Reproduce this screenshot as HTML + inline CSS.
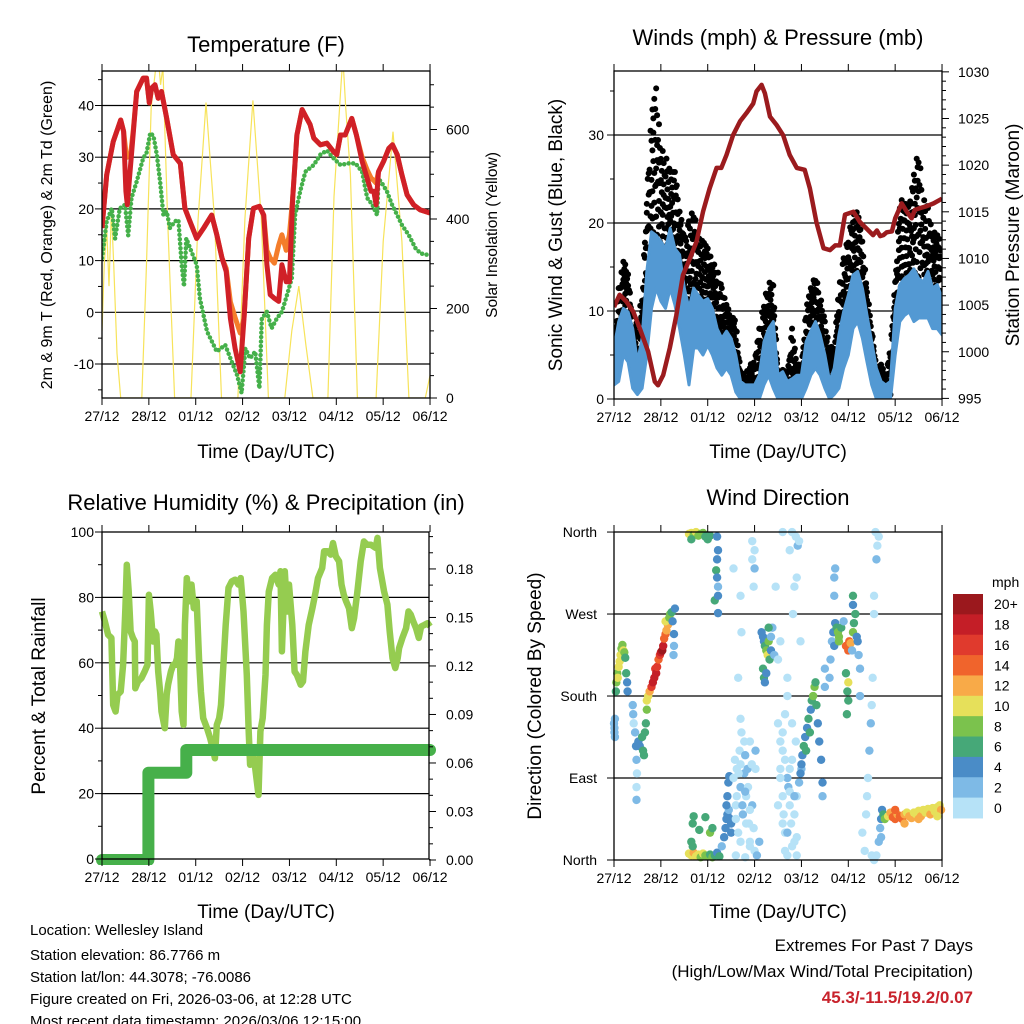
<!DOCTYPE html>
<html><head><meta charset="utf-8"><title>Weather station charts</title>
<style>
html,body{margin:0;padding:0;background:#fff;}
svg{display:block;font-family:"Liberation Sans",Arial,sans-serif;}
</style></head>
<body>
<svg id="root" width="1024" height="1024" viewBox="0 0 1024 1024" xmlns="http://www.w3.org/2000/svg">
<defs>
<clipPath id="c1"><rect x="102" y="71" width="328" height="327"/></clipPath>
<clipPath id="c2"><rect x="614" y="71" width="328" height="328"/></clipPath>
<clipPath id="c3"><rect x="96" y="526" width="340" height="339"/></clipPath>
<clipPath id="c4"><rect x="608" y="526" width="340" height="340"/></clipPath>
</defs>
<text x="266" y="52" font-size="22" text-anchor="middle">Temperature (F)</text>
<text x="778" y="45" font-size="22" text-anchor="middle">Winds (mph) &amp; Pressure (mb)</text>
<text x="266" y="510" font-size="22" text-anchor="middle">Relative Humidity (%) &amp; Precipitation (in)</text>
<text x="778" y="505" font-size="22" text-anchor="middle">Wind Direction</text>
<text x="266" y="458" font-size="19" text-anchor="middle">Time (Day/UTC)</text>
<text x="778" y="458" font-size="19" text-anchor="middle">Time (Day/UTC)</text>
<text x="266" y="918" font-size="19" text-anchor="middle">Time (Day/UTC)</text>
<text x="778" y="918" font-size="19" text-anchor="middle">Time (Day/UTC)</text>
<text transform="translate(52,235) rotate(-90)" font-size="16" text-anchor="middle">2m &amp; 9m T (Red, Orange) &amp; 2m Td (Green)</text>
<text transform="translate(497,235) rotate(-90)" font-size="15.5" text-anchor="middle">Solar Insolation (Yellow)</text>
<text transform="translate(562,235) rotate(-90)" font-size="19" text-anchor="middle">Sonic Wind &amp; Gust (Blue, Black)</text>
<text transform="translate(1019,235) rotate(-90)" font-size="19" text-anchor="middle">Station Pressure (Maroon)</text>
<text transform="translate(45,696) rotate(-90)" font-size="19" text-anchor="middle">Percent &amp; Total Rainfall</text>
<text transform="translate(541,696) rotate(-90)" font-size="19" text-anchor="middle">Direction (Colored By Speed)</text>
<g font-size="15">
<text x="30" y="935">Location: Wellesley Island</text>
<text x="30" y="960">Station elevation: 86.7766 m</text>
<text x="30" y="982">Station lat/lon: 44.3078; -76.0086</text>
<text x="30" y="1004">Figure created on Fri, 2026-03-06, at 12:28 UTC</text>
<text x="30" y="1026">Most recent data timestamp: 2026/03/06 12:15:00</text>
</g>
<g font-size="17" text-anchor="end">
<text x="973" y="951">Extremes For Past 7 Days</text>
<text x="973" y="977">(High/Low/Max Wind/Total Precipitation)</text>
<text x="973" y="1003" font-weight="bold" fill="#c8232c">45.3/-11.5/19.2/0.07</text>
</g>
</svg>
<script>
// ---------- DATA ----------
const dayLabels = ["27/12","28/12","01/12","02/12","03/12","04/12","05/12","06/12"];
const tempTicks = [-10,0,10,20,30,40];
const solarTicks = [0,200,400,600];
const windTicks = [0,10,20,30];
const pressTicks = [995,1000,1005,1010,1015,1020,1025,1030];
const rhTicks = [0,20,40,60,80,100];
const precipTicks = ["0.00","0.03","0.06","0.09","0.12","0.15","0.18"];
const dirTicks = [0,90,180,270,360];
const dirLabels = ["North","East","South","West","North"];
const speedBins = ["0","2","4","6","8","10","12","14","16","18","20+"];

const tempTimes = [0,.10,.24,.40,.46,.51,.54,.61,.67,.74,.88,.95,1.01,1.06,1.13,1.20,1.27,1.38,1.52,1.67,1.77,1.88,2.02,2.17,2.34,2.45,2.56,2.65,2.74,2.84,2.95,3.03,3.13,3.23,3.36,3.45,3.52,3.59,3.68,3.77,3.84,3.93,4.00,4.07,4.16,4.27,4.37,4.44,4.52,4.66,4.80,4.94,5.01,5.09,5.19,5.33,5.43,5.55,5.66,5.74,5.80,5.85,5.90,6.01,6.12,6.20,6.30,6.40,6.51,6.65,6.79,7.0];
const temp2m = [16.3,26.6,33.0,37.2,35.0,23.4,20.8,28.5,35.0,42.7,45.3,45.3,40.5,43.4,44.0,41.4,42.7,37.5,30.5,28.8,20.1,17.5,14.3,16.3,18.8,15.0,10.5,7.9,-1.2,-7.0,-11.5,-1.2,14.3,20.1,20.5,18.8,9.2,3.4,2.7,2.1,9.2,5.9,5.9,22.1,34.3,39.2,37.5,36.3,33.7,32.4,32.7,31.1,30.5,34.3,34.3,37.5,34.3,29.2,25.9,23.4,23.4,20.8,27.2,29.2,31.7,32.4,30.5,26.6,22.7,20.8,19.8,19.2];
const temp9m = [16.3,26.6,33.0,37.2,35.0,31.0,30.0,30.5,35.5,42.7,45.3,45.3,40.5,43.4,44.0,41.4,42.7,37.5,30.5,28.8,20.1,17.5,14.3,16.3,18.8,15.0,10.5,8.5,2.0,-1.0,-4.0,-1.2,14.3,20.1,20.5,18.8,12.0,10.5,9.5,13.0,15.0,12.0,15.0,22.1,34.3,39.2,37.5,36.3,33.7,32.4,32.7,31.1,30.5,34.3,34.3,37.5,34.3,30.0,27.5,26.0,25.5,25.0,27.2,29.2,31.7,32.4,30.5,26.6,22.7,20.8,19.8,19.2];
const dewTimes = [0,.10,.21,.28,.38,.49,.56,.63,.74,.88,.95,1.03,1.10,1.17,1.24,1.31,1.38,1.45,1.56,1.63,1.70,1.75,1.80,1.88,2.02,2.09,2.24,2.45,2.63,2.74,2.88,2.98,3.06,3.16,3.27,3.36,3.41,3.52,3.62,3.73,3.84,3.95,4.05,4.12,4.23,4.34,4.52,4.66,4.80,4.94,5.09,5.26,5.41,5.55,5.66,5.77,5.87,5.90,5.98,6.08,6.19,6.30,6.40,6.55,6.69,6.80,7.0];
const dewPoint = [10.5,17.6,20.1,14.3,20.1,20.8,14.9,22.1,25.3,29.8,30.8,34.7,34.1,30.5,25.3,18.8,19.5,16.3,17.6,17.9,9.2,5.0,14.3,12.4,9.2,2.7,-3.7,-7.6,-6.3,-8.9,-12.1,-15.6,-7.0,-8.9,-7.6,-14.7,-1.2,0.1,-3.1,-1.2,0.1,3.4,6.6,18.8,23.4,27.2,28.5,30.5,31.3,29.8,28.5,28.8,28.8,27.2,22.1,20.8,18.8,25.9,24.9,23.4,20.8,18.8,16.9,14.9,12.4,11.4,11.0];
const solarTimes = [0,.05,.10,.15,.20,.25,.32,.40,.85,.95,1.05,1.15,1.20,1.25,1.30,1.40,1.55,1.90,2.05,2.22,2.40,2.55,2.90,3.05,3.22,3.40,3.55,3.90,4.05,4.20,4.35,4.50,4.82,4.95,5.10,5.14,5.20,5.30,5.45,5.85,6.00,6.21,6.40,6.55,6.90,7.0];
const solarValues = [150,300,380,250,420,300,100,0,0,300,650,740,760,700,740,400,0,0,400,660,400,0,0,400,665,400,0,0,150,250,120,0,0,450,700,760,650,500,0,0,350,595,350,0,0,50];

const windTimes = Array.from({length:71},(_,i)=>i/10);
const sonicHigh = [5.8,8.8,10.3,9.9,8.0,4.2,6.9,14.5,19.0,18.6,17.9,17.1,19.4,17.1,16.4,12.6,10.3,12.6,11.8,11.1,11.4,10.3,8.0,6.9,7.7,6.9,5.0,2.0,1.6,1.6,1.6,2.7,6.5,8.0,8.8,2.7,3.1,2.0,2.3,2.7,2.7,6.5,7.7,8.8,7.3,5.0,2.0,3.5,7.3,9.9,11.8,14.1,14.5,12.6,9.5,6.5,3.5,2.0,1.6,2.0,10.3,13.0,13.7,14.1,14.8,13.7,13.3,14.5,12.6,13.0,11.4];
const sonicLow = [1.6,2.0,5.0,4.2,1.2,0.5,1.2,5.0,10.3,12.6,11.1,10.3,12.6,10.7,8.0,5.0,1.6,5.8,5.8,5.0,6.1,5.0,3.5,2.7,3.5,2.7,0.8,0,0,0,0,0,1.6,2.7,1.2,0,0,0,0,0,0,1.2,2.7,3.5,2.7,1.2,0,0.5,1.2,3.5,5.0,8.0,8.8,6.9,4.2,1.6,0,0,0,0,5.0,8.8,9.5,9.9,8.8,9.2,9.2,9.2,8.0,8.0,7.3];
const gustHigh = [5.0,12.6,15.6,14.8,8.0,8.8,11.8,23.2,32.3,35.3,28.5,27.7,25.8,25.8,22.0,17.9,20.2,21.7,18.3,17.9,17.1,15.6,14.8,12.6,10.7,9.5,8.8,3.1,2.7,3.9,4.2,8.0,11.1,13.3,12.9,2.7,3.5,2.7,8.0,4.2,3.5,10.3,12.6,14.1,11.8,8.8,5.8,6.1,12.6,16.0,18.6,20.9,21.3,17.9,12.6,8.0,3.5,3.9,2.7,5.8,13.3,22.8,22.3,21.7,25.5,28.5,22.8,21.7,18.6,19.4,16.4];
const pressTimes = [0,.12,.26,.41,.55,.73,.87,.94,1.05,1.19,1.33,1.47,1.62,1.76,1.90,2.04,2.19,2.29,2.40,2.54,2.69,2.83,2.97,3.04,3.15,3.22,3.33,3.47,3.61,3.75,3.90,4.07,4.18,4.32,4.47,4.61,4.72,4.82,4.93,5.11,5.25,5.39,5.53,5.61,5.68,5.75,5.82,5.93,6.00,6.14,6.25,6.35,6.42,6.53,6.67,6.82,7.0];
const pressValues = [1004.8,1006.1,1005.4,1004.3,1002.5,1000.0,996.8,996.4,997.5,1000.4,1003.9,1008.2,1010.0,1011.8,1015.0,1017.5,1019.7,1019.7,1021.1,1023.2,1024.7,1025.6,1026.6,1027.9,1028.6,1027.7,1025.2,1024.3,1023.2,1021.1,1019.7,1019.5,1017.5,1013.9,1011.1,1010.9,1011.4,1011.4,1014.7,1015.0,1013.9,1013.2,1012.5,1013.0,1012.4,1012.5,1012.8,1012.9,1014.3,1015.9,1015.0,1014.3,1015.2,1015.4,1015.6,1015.9,1016.4];

const rhTimes = [0,.06,.13,.20,.24,.29,.33,.40,.45,.50,.53,.57,.61,.66,.70,.71,.77,.84,.91,.97,1.00,1.04,1.09,1.13,1.16,1.20,1.24,1.27,1.34,1.38,1.41,1.47,1.52,1.56,1.60,1.63,1.66,1.70,1.74,1.77,1.81,1.86,1.91,1.96,2.02,2.07,2.11,2.16,2.24,2.31,2.38,2.41,2.45,2.50,2.54,2.59,2.64,2.70,2.77,2.84,2.91,2.96,3.02,3.09,3.13,3.16,3.24,3.27,3.34,3.38,3.43,3.49,3.52,3.56,3.63,3.70,3.77,3.81,3.84,3.90,3.95,3.99,4.06,4.11,4.16,4.24,4.29,4.34,4.41,4.49,4.56,4.61,4.70,4.74,4.81,4.88,4.93,4.99,5.06,5.11,5.16,5.21,5.27,5.33,5.38,5.45,5.52,5.59,5.66,5.74,5.84,5.88,5.93,6.02,6.09,6.14,6.20,6.26,6.31,6.34,6.41,6.49,6.54,6.59,6.64,6.70,6.76,6.81,6.88,6.95,7.00];
const rhValues = [75.7,72.7,68.6,67.6,47.1,45.1,50.2,51.2,59.4,76.7,90.0,81.8,69.6,67.6,66.5,52.2,54.3,55.3,57.3,59.4,80.8,75.7,66.5,69.6,68.6,57.3,51.2,45.1,40.0,50.2,53.3,57.3,59.4,59.4,61.4,66.5,61.4,45.1,41.0,71.6,85.9,78.8,83.9,76.7,78.8,61.4,51.2,43.1,40.0,36.9,32.9,30.8,41.0,43.1,47.1,59.4,71.6,82.9,84.9,85.4,83.9,85.9,75.7,56.3,39.0,28.8,30.8,27.8,19.6,39.0,43.1,56.3,71.6,81.8,85.9,86.9,83.9,88.0,63.5,88.0,75.7,83.9,71.6,57.3,56.3,53.3,54.3,63.5,71.6,76.7,81.8,85.9,89.0,94.1,94.1,93.1,96.6,92.6,91.0,83.9,80.8,78.8,76.7,70.6,73.7,81.8,91.0,97.1,96.1,96.1,95.1,98.2,89.0,81.8,77.8,69.6,61.4,58.4,61.4,64.5,67.6,70.6,75.7,74.7,72.7,70.6,67.6,71.1,71.6,72.1,71.1];
const precipTimes = [0,0.99,0.99,1.80,1.80,7.0];
const precipValues = [0,0,0.054,0.054,0.068,0.068];

const dirTimes = [0.0,0.01,0.02,0.01,0.02, 0.04,0.05,0.07,0.08,0.1,0.12,0.14,0.16,0.18,0.2,0.22,0.24,0.26,0.28,0.29, 0.4,0.41,0.42,0.45,0.47,0.48,0.49,0.48,0.48,0.52,0.55,0.6,0.62,0.64,0.66,0.68,0.7, 0.7,0.73,0.76,0.8,0.83,0.86,0.88,0.9,0.92,0.95,0.98,1.0,1.03,1.05,1.07,1.1,1.12,1.15,1.1,1.18,1.2,1.23,1.25,1.28,1.28,1.27,1.3, 1.6,1.65,1.7,1.75,1.8,1.65,1.85,1.9,1.95,2.0,2.05,2.2,2.22,2.2,2.18,2.2,2.22,2.15,2.22,2.22, 1.6,1.65,1.7,1.75,1.8,1.85,1.9,1.95,2.0,2.05,2.1,2.15,2.2,2.25,1.65,1.68,1.7,1.82,1.95,2.05,2.1,1.68, 2.3,2.35,2.38,2.4,2.42,2.45,2.48,2.4,2.42,2.44,2.46,2.5,2.5, 2.55,2.6,2.62,2.65,2.68,2.7,2.72,2.75,2.78,2.8,2.82,2.85,2.88,2.9,2.95,3.0,3.02,2.6,2.8,2.65,2.72,2.7,2.55,2.95,3.0,3.0,2.98,2.95,2.7,2.9,3.1,3.05, 3.15,3.18,3.2,3.22,3.25,3.28,3.3,3.32,3.35,3.18,3.2,3.22,3.25,3.35,3.38,3.42,3.3, 3.45,3.5,3.55,3.5,3.55,3.6,3.62,3.65,3.7,3.72,3.75,3.8,3.78,3.85,3.9,3.88,3.6,3.65,3.7,3.8,3.82,3.85,3.9,3.75,3.8,3.88,3.92,3.95,3.6,3.7,3.9,4.0,3.95,3.98,3.7, 3.98,4.0,4.02,4.05,4.08,4.1,4.12,4.15,4.18,4.2,4.22,4.25,4.28,4.3,4.32,4.35,4.38,4.42,4.45,4.45, 4.6,4.62,4.65,4.68,4.7,4.72,4.75,4.78,4.8,4.85,4.8,4.9,4.95,5.0,5.02,5.05,4.95,4.98,5.0,4.97,5.0,5.1,5.12,5.15,5.18,5.2,5.22,5.25,5.25,5.1,5.1,5.08,4.7,4.7,4.72,4.5,4.5, 5.3,5.35,5.38,5.4,5.42,5.45,5.48,5.5,5.52,5.55,5.55,5.6,5.62,5.65,5.58,5.55,5.5,5.6, 5.65,5.68,5.7,5.72,5.75,5.7,5.78, 5.85,5.9,5.95,6.0,6.05,6.1,6.15,6.2,6.25,6.3,6.35,6.4,6.45,6.5,6.55,6.6,6.65,6.7,6.75,6.8,6.85,6.9,6.95,6.98,6.9,6.0,6.2,6.5, 2.58,2.62,2.66,2.7,2.74,2.78,2.82,2.86,2.9,2.94,2.98,3.02,2.6,2.7,2.8,2.9,3.5,3.55,3.6,3.65,3.7,3.75,3.8,3.85,3.9,3.55,3.65,3.75,3.85,3.6];
const dirDegrees = [150,140,155,145,135, 185,195,205,200,212,218,225,232,236,230,228,222,205,195,185, 170,160,150,140,125,110,95,80,66,130,125,135,120,115,140,150,165, 175,180,185,190,195,200,210,205,212,220,225,228,230,235,243,248,252,258,262,266,270,272,262,248,235,225,276, 358,359,357,360,356,352,358,359,355,352,356,355,340,330,318,310,300,285,290,271, 7,5,8,4,6,3,7,5,4,6,3,5,8,4,20,40,48,33,47,30,35,15, 15,25,35,45,50,55,45,60,70,85,92,40,30, 90,60,100,30,120,80,140,50,95,115,70,100,40,130,60,10,100,5,3,200,250,290,320,350,340,320,300,330,155,20,20,5, 250,245,240,235,230,225,240,220,230,210,200,195,205,245,255,225,255, 300,220,240,150,100,70,50,30,90,80,60,110,40,20,70,130,120,160,180,150,270,300,310,340,360,355,345,350,360,5,5,100,85,240,200, 95,105,115,125,135,120,145,155,140,165,175,180,190,195,170,150,130,110,85,70, 200,220,240,250,235,260,255,250,245,255,240,262,235,230,240,238,205,185,175,160,195,250,260,270,245,240,225,210,180,280,290,230,290,310,320,210,190, 30,10,50,70,90,120,150,170,200,270,290,330,345,355,360,0,5,5, 20,35,45,55,50,25,45, 48,52,47,45,50,48,45,50,52,48,46,52,50,54,48,55,52,56,50,57,53,58,60,55,48,55,40,45, 110,70,95,20,60,130,40,80,15,105,35,120,45,105,75,55,60,90,40,110,30,75,15,50,25,130,10,100,70,140];
const dirSpeeds = [2,3,2,2,3, 6,8,9,10,10,10,10,9,8,10,9,6,6,5,4, 2,2,1,3,4,2,1,1,2,5,5,6,7,6,6,7,9, 10,11,13,16,18,19,17,18,16,14,17,19,20,18,14,15,13,12,10,9,8,6,4,5,3,3,4, 10,11,9,10,9,7,8,8,7,6,7,4,5,4,6,5,3,6,4,4, 10,11,13,10,10,9,10,8,9,7,8,6,5,6,6,6,6,6,6,8,6,7, 3,4,4,5,4,3,4,4,4,4,4,4,5, 1,1,1,1,1,2,1,2,2,2,1,3,1,1,2,1,1,1,1,1,1,1,1,1,1,2,1,1,1,1,3,2, 4,5,4,6,8,10,8,7,4,6,6,5,4,3,2,3,6, 1,1,1,1,1,1,1,1,2,3,1,1,1,1,1,1,1,1,1,1,1,1,1,1,1,1,2,1,1,1,1,2,3,1,1, 4,4,5,6,5,6,4,6,7,5,6,8,8,6,6,4,4,4,4,2, 2,3,2,4,4,5,7,8,8,7,9,3,14,14,15,13,6,7,6,6,10,8,6,6,5,4,3,2,2,5,6,3,2,2,2,2,2, 1,1,1,1,1,2,2,1,1,1,1,2,1,1,1,1,1,1, 2,3,4,4,6,3,8, 10,12,14,15,13,15,14,12,11,13,12,10,11,10,12,10,11,10,12,10,11,10,10,12,11,14,13,12, 1,1,1,1,2,1,1,1,1,1,1,2,1,1,3,1,1,1,1,1,3,1,1,1,1,1,1,1,2,1];
const speedColors = ["#b6e2f7","#7ebae6","#4a8cc7","#46a878","#7bc24d","#e6e05a","#f8aa48","#f0642c","#e03a2d","#c41e27","#9b181d"];

// ---------- HELPERS ----------
const NS = "http://www.w3.org/2000/svg";
const root = document.getElementById("root");
function mk(tag, attrs, parent){
  const el = document.createElementNS(NS, tag);
  for (const k in attrs) el.setAttribute(k, attrs[k]);
  (parent||root).appendChild(el);
  return el;
}
function group(name, clip){
  const g = mk("g", clip ? {"clip-path":"url(#"+clip+")"} : {});
  
  
  return g;
}
function pathFrom(xs, ys){
  let d = "";
  const n = Math.min(xs.length, ys.length);
  for (let i=0;i<n;i++){
    if (!isFinite(xs[i]) || !isFinite(ys[i])) continue;
    d += (d? "L":"M") + xs[i].toFixed(1) + "," + ys[i].toFixed(1);
  }
  return d;
}
const DAY = 46.86;

const P1 = {x0:102,x1:430,y0:71,y1:398, xs:t=>102+t*DAY, yL:v=>312.3-5.17*v, yR:s=>398-s*0.4475};
const P2 = {x0:614,x1:942,y0:71,y1:399, xs:t=>614+t*DAY, yL:m=>399-8.8*m, yR:p=>398.4-(p-995)*9.33};
const P3 = {x0:102,x1:429,y0:532,y1:859, xs:t=>102+t*DAY, yL:v=>859-3.27*v, yR:p=>860-p*1617};
const P4 = {x0:614,x1:942,y0:532,y1:860, xs:t=>614+t*DAY, yD:d=>860-d*0.911};

function frame(P, name){
  const g = group(name+"-axes");
  dayLabels.forEach((lab,i)=>{
    const x = P.xs(i);
    const t1 = mk("line",{x1:x,y1:P.y1,x2:x,y2:P.y1+7,stroke:"#000","stroke-width":1},g);
    
    
    const t2 = mk("line",{x1:x,y1:P.y0,x2:x,y2:P.y0-7,stroke:"#000","stroke-width":1},g);
    
    
    const tx = mk("text",{x:x,y:P.y1+23,"font-size":14,"text-anchor":"middle"},g);
    tx.textContent = lab;
    
    
  });
  const r = mk("rect",{x:P.x0,y:P.y0,width:P.x1-P.x0,height:P.y1-P.y0,fill:"none",stroke:"#000","stroke-width":1.3},g);
  
  
  return g;
}
function hTick(g, P, y, side, len, label, lx, anchor){
  const x = side==="L" ? P.x0 : P.x1;
  const dx = side==="L" ? -len : len;
  const l = mk("line",{x1:x,y1:y,x2:x+dx,y2:y,stroke:"#000","stroke-width":1},g);
  
  
  if (label!==null){
    const t = mk("text",{x:lx,y:y+5,"font-size":14,"text-anchor":anchor},g);
    t.textContent = label;
    
    
  }
}
function grid(g, P, y){
  const l = mk("line",{x1:P.x0,y1:y,x2:P.x1,y2:y,stroke:"#000","stroke-width":1.2},g);
  
  
}

// ---------- PANEL 1: TEMPERATURE ----------
(function(){
  const gg = group("temperature-grid");
  tempTicks.forEach(v=>grid(gg,P1,P1.yL(v)));
  const g = group("temperature-plot","c1");
  const sol = mk("path",{d:pathFrom(solarTimes.map(P1.xs), solarValues.map(P1.yR)),fill:"none",stroke:"#f7e35a","stroke-width":1.2},g);
  
  
  const dew = mk("path",{d:pathFrom(dewTimes.map(P1.xs), dewPoint.map(P1.yL)),fill:"none",stroke:"#45b04a","stroke-width":4.5,"stroke-linecap":"round","stroke-dasharray":"0 4.5"},g);
  
  
  const t9 = mk("path",{d:pathFrom(tempTimes.map(P1.xs), temp9m.map(P1.yL)),fill:"none",stroke:"#f47d2b","stroke-width":5,"stroke-linejoin":"round"},g);
  
  
  const t2 = mk("path",{d:pathFrom(tempTimes.map(P1.xs), temp2m.map(P1.yL)),fill:"none",stroke:"#d02027","stroke-width":5,"stroke-linejoin":"round"},g);
  
  
  const a = frame(P1,"temperature");
  for (let v=-15; v<=45; v+=5) hTick(a,P1,P1.yL(v),"L",v%10===0?7:4, v%10===0?String(v):null, 94,"end");
  for (let s=0; s<=700; s+=50) hTick(a,P1,P1.yR(s),"R",s%200===0?7:4, s%200===0?String(s):null, 446,"start");
})();

// ---------- PANEL 2: WINDS ----------
(function(){
  const gg = group("winds-grid");
  windTicks.slice(1).forEach(v=>grid(gg,P2,P2.yL(v)));
  const g = group("winds-plot","c2");
  const fr = [0,0.4,0.8,0.2,0.6,1.0,0.1,0.5,0.9,0.3,0.7];
  for (let i=0;i<windTimes.length-1;i++){
    for (let j=0;j<5;j++){
      const f = j/5;
      const t = windTimes[i] + f*(windTimes[i+1]-windTimes[i]);
      const hi = gustHigh[i] + f*(gustHigh[i+1]-gustHigh[i]);
      const lo = sonicHigh[i] + f*(sonicHigh[i+1]-sonicHigh[i]);
      for (let k=0;k<4;k++){
        const q = fr[(i*5+j*3+k*2)%fr.length];
        const v = Math.max(0, lo - 1.5 + q*(hi-lo+1.5));
        const c = mk("circle",{cx:P2.xs(t),cy:P2.yL(v),r:3,fill:"#000"},g);
        
        
      }
    }
  }
  const xsF = windTimes.map(P2.xs);
  const d = pathFrom(xsF, sonicHigh.map(P2.yL)) + pathFrom(xsF.slice().reverse(), sonicLow.map(P2.yL).reverse()).replace("M","L") + "Z";
  const band = mk("path",{d:d,fill:"#5399d3",stroke:"#5399d3","stroke-width":3,"stroke-linejoin":"round"},g);
  
  
  const pr = mk("path",{d:pathFrom(pressTimes.map(P2.xs), pressValues.map(P2.yR)),fill:"none",stroke:"#9b1b1e","stroke-width":4.5,"stroke-linejoin":"round"},g);
  
  
  const a = frame(P2,"winds");
  for (let v=0; v<=35; v+=5) hTick(a,P2,P2.yL(v),"L",v%10===0?7:4, v%10===0?String(v):null, 604,"end");
  for (let p=995; p<=1030; p+=1) hTick(a,P2,P2.yR(p),"R",p%5===0?7:4, p%5===0?String(p):null, 958,"start");
})();

// ---------- PANEL 3: HUMIDITY ----------
(function(){
  const gg = group("humidity-grid");
  rhTicks.slice(1,5).forEach(v=>grid(gg,P3,P3.yL(v)));
  const g = group("humidity-plot","c3");
  const rh = mk("path",{d:pathFrom(rhTimes.map(P3.xs), rhValues.map(P3.yL)),fill:"none",stroke:"#95cc50","stroke-width":6.5,"stroke-linejoin":"round"},g);
  
  
  const pc = mk("path",{d:pathFrom(precipTimes.map(P3.xs), precipValues.map(P3.yR)),fill:"none",stroke:"#46b04a","stroke-width":12,"stroke-linecap":"round","stroke-linejoin":"round"},g);
  
  
  const a = frame(P3,"humidity");
  for (let v=0; v<=100; v+=10) hTick(a,P3,P3.yL(v),"L",v%20===0?7:4, v%20===0?String(v):null, 94,"end");
  for (let k=0; k<=20; k++){
    const p = k/100;
    const major = k%3===0 && k<=18;
    hTick(a,P3,P3.yR(p),"R",major?7:4, major?precipTicks[k/3]:null, 446,"start");
  }
})();

// ---------- PANEL 4: WIND DIRECTION ----------
(function(){
  const gg = group("direction-grid");
  dirTicks.slice(1,4).forEach(v=>grid(gg,P4,P4.yD(v)));
  const g = group("direction-plot","c4");
  const n = Math.min(dirTimes.length, dirDegrees.length, dirSpeeds.length);
  for (let i=0;i<n;i++){
    const bin = Math.min(10, Math.max(0, Math.floor(dirSpeeds[i]/2)));
    const c = mk("circle",{cx:P4.xs(dirTimes[i]),cy:P4.yD(dirDegrees[i]),r:4.2,fill:speedColors[bin]},g);
    
    
  }
  const a = frame(P4,"direction");
  dirTicks.forEach((v,i)=>hTick(a,P4,P4.yD(v),"L",7,dirLabels[i],597,"end"));
  const cb = group("speed-colorbar");
  const mph = mk("text",{x:992,y:587,"font-size":14},cb);
  mph.textContent = "mph";
  
  
  const top = 594, h = 20.36;
  for (let k=0;k<speedBins.length;k++){
    const idx = speedBins.length-1-k;
    const r = mk("rect",{x:953,y:top+k*h,width:30,height:h+0.5,fill:speedColors[idx]},cb);
    
    
    const t = mk("text",{x:994,y:top+k*h+h/2+5,"font-size":14},cb);
    t.textContent = speedBins[idx];
    
    
  }
})();
</script>
</body></html>
